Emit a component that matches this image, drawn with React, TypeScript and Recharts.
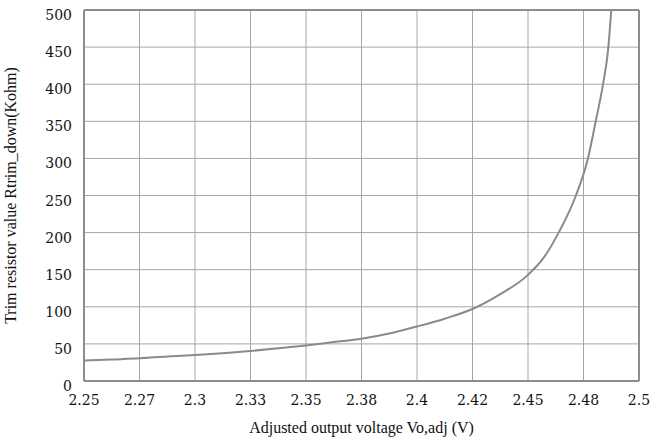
import React from 'react';
import { LineChart, Line, XAxis, YAxis, CartesianGrid, ReferenceLine } from 'recharts';

// output voltage (V) and trim resistance (Kohm)
const voltage = [
  2.25, 2.2625, 2.275, 2.2875, 2.3, 2.3125, 2.325, 2.3375, 2.35, 2.3625, 2.375, 2.3875,
  2.4, 2.4125, 2.425, 2.4375, 2.45, 2.4575, 2.4638, 2.4716, 2.477, 2.4805, 2.4838, 2.4862, 2.4875,
];
const rtrim = [
  27.5, 29, 30.5, 33, 35, 37.5, 40.5, 44, 48, 52.5, 57, 64,
  73.5, 84, 97, 117, 143, 168, 200, 250, 300, 350, 400, 450, 500,
];

const xTicks = [2.25, 2.275, 2.3, 2.325, 2.35, 2.375, 2.4, 2.425, 2.45, 2.475, 2.5];
const xTickLabels = ['2.25', '2.27', '2.3', '2.33', '2.35', '2.38', '2.4', '2.42', '2.45', '2.48', '2.5'];
const yTicks = [0, 50, 100, 150, 200, 250, 300, 350, 400, 450, 500];

const data = voltage.map((v, i) => ({ v, r: rtrim[i] }));

const font = '"Liberation Serif", serif';
const textStyle = { fontFamily: font, fontSize: 16, fill: '#111' };
const tickFont = { fontFamily: '"DejaVu Serif", serif', fontSize: 14, fill: '#111' };

const renderXTick = (props: any) => {
  const { x, y, payload } = props;
  const label = xTickLabels[xTicks.indexOf(payload.value)] ?? '';
  return (
    <text key={`x-${payload.value}`} x={x} y={y + 22} textAnchor="middle" style={tickFont}>
      {label}
    </text>
  );
};

const renderYTick = (props: any) => {
  const { x, y, payload } = props;
  return (
    <text key={`y-${payload.value}`} x={x - 10} y={y + 10} textAnchor="end" style={tickFont}>
      {payload.value}
    </text>
  );
};

const App: React.FC = () => {
  return (
    <div style={{ position: 'fixed', left: 0, top: 0, width: 666, height: 444, background: '#fff', fontFamily: font }}>
      <LineChart width={666} height={444} data={data} margin={{ top: 10, right: 27, left: 0, bottom: 8 }}>
        <CartesianGrid stroke="#a3a7ab" strokeWidth={1} />
        <XAxis
          type="number"
          dataKey="v"
          domain={[2.25, 2.5]}
          ticks={xTicks}
          tick={renderXTick}
          tickLine={false}
          tickSize={0}
          axisLine={{ stroke: '#8a8e92', strokeWidth: 2 }}
          height={55}
          allowDataOverflow
          label={{ value: 'Adjusted output voltage Vo,adj (V)', position: 'insideBottom', offset: 3, style: textStyle }}
        />
        <YAxis
          type="number"
          domain={[0, 500]}
          ticks={yTicks}
          tick={renderYTick}
          tickLine={false}
          tickSize={0}
          axisLine={{ stroke: '#8a8e92', strokeWidth: 2 }}
          width={84}
          allowDataOverflow
          label={{ value: 'Trim resistor value Rtrim_down(Kohm)', angle: -90, position: 'insideLeft', offset: 10, style: { ...textStyle, textAnchor: 'middle' } }}
        />
        <ReferenceLine y={500} stroke="#8a8e92" strokeWidth={2} />
        <ReferenceLine x={2.5} stroke="#8a8e92" strokeWidth={2} />
        <Line
          type="monotone"
          dataKey="r"
          stroke="#878b8f"
          strokeWidth={2}
          dot={false}
          isAnimationActive={false}
        />
      </LineChart>
    </div>
  );
};

export default App;
